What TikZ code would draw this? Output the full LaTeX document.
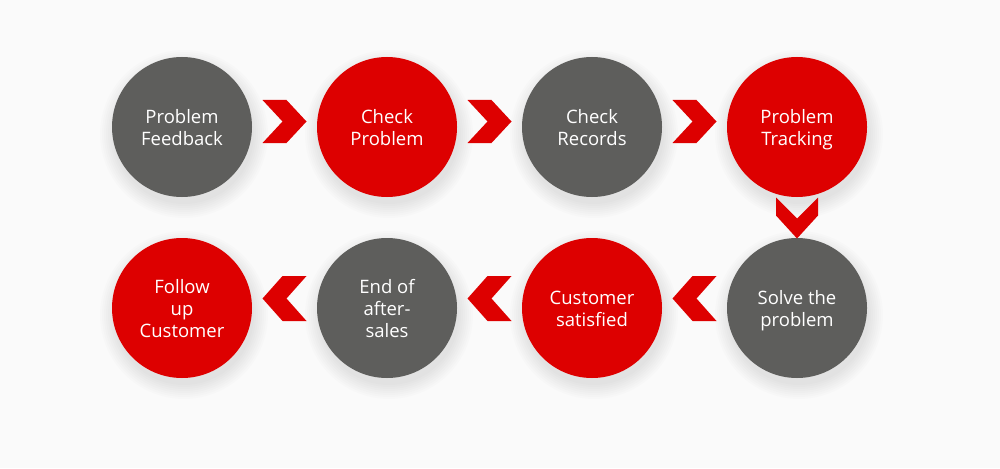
\documentclass[tikz,border=0pt]{standalone}
\usepackage{fontspec}
\setmainfont{Open Sans}
\usetikzlibrary{calc}
\begin{document}
\begin{tikzpicture}[x=1pt,y=-1pt,
  stepcircle/.style={circle,minimum size=140pt,inner sep=0pt},
  steptext/.style={text=white,align=center,font=\fontsize{18.5}{22}\selectfont,
    execute at begin node=\strut, execute at end node=\strut,
    yshift=-4pt,inner sep=0pt},
  redc/.style={stepcircle,fill=stepred},
  greyc/.style={stepcircle,fill=stepgrey},
  chev/.style={fill=stepred,draw=none}]
\definecolor{stepred}{HTML}{DD0000}
\definecolor{stepgrey}{HTML}{5E5E5C}
\fill[white!98!black] (0,0) rectangle (1000,468);
\useasboundingbox (0,0) rectangle (1000,468);
% soft shadows
\foreach \cx/\cy in {182/127,387/127,592/127,797/127,182/308,387/308,592/308,797/308}{
  \foreach \r in {84,82,...,70}{
    \fill[black,opacity=0.012] (\cx+2,\cy+7) circle (\r);
  }
}
\node[greyc,label={[steptext]center:Problem\\Feedback}] (n1) at (182,127) {};
\node[redc,label={[steptext]center:Check\\Problem}]  (n2) at (387,127) {};
\node[greyc,label={[steptext]center:Check\\Records}] (n3) at (592,127) {};
\node[redc,label={[steptext]center:Problem\\Tracking}]  (n4) at (797,127) {};
\node[greyc,label={[steptext]center:Solve the\\problem}] (n5) at (797,308) {};
\node[redc,label={[steptext]center:Customer\\satisfied}]  (n6) at (592,308) {};
\node[greyc,label={[steptext]center:End of\\after-\\sales}] (n7) at (387,308) {};
\node[redc,label={[steptext]center:Follow\\up\\Customer}]  (n8) at (182,308) {};
% right-pointing chevrons (top row)
\foreach \a/\b in {n1/n2,n2/n3,n3/n4}{
  \path ($(\a)!0.5!(\b)$) coordinate (m\a);
  \fill[chev] ([shift={(-22,-27)}]m\a) -- ++(24,0) -- ++(20,21.5) -- ++(-20,21.5) -- ++(-24,0) -- ++(20,-21.5) -- cycle;
}
% down chevron
\path ($(n4)!0.5!(n5)$) coordinate (mdown);
\fill[chev] ([shift={(-21,-20)}]mdown) -- ++(0,18) -- ++(21,23) -- ++(21,-23) -- ++(0,-18) -- ++(-21,21) -- cycle;
% left-pointing chevrons (bottom row)
\foreach \a/\b in {n5/n6,n6/n7,n7/n8}{
  \path ($(\a)!0.5!(\b)$) coordinate (m\a);
  \fill[chev] ([shift={(22,-32)}]m\a) -- ++(-24,0) -- ++(-20,22.5) -- ++(20,22.5) -- ++(24,0) -- ++(-20,-22.5) -- cycle;
}
\end{tikzpicture}
\end{document}
